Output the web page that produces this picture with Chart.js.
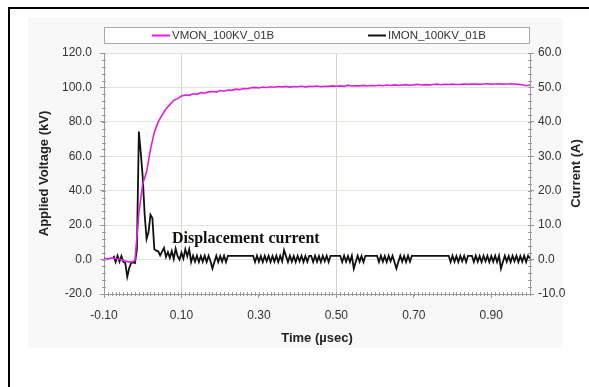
<!DOCTYPE html>
<html>
<head>
<meta charset="utf-8">
<script src="https://cdn.jsdelivr.net/npm/chart.js@4"></script>
<style>
  html, body { margin: 0; padding: 0; overflow: hidden; background: #fff; }
  #chart { position: absolute; left: 0; top: 0; }
</style>
</head>
<body>
<canvas id="chart" width="589" height="387"></canvas>
<script>
// sample grids (scope time base)
var voltageT0 = -0.10, voltageStep = 0.01;
var currentT0 = -0.075, currentStep = 0.005;

// applied voltage, kV (left axis)
var voltageKV = [
  0.8, 0.3, 1.0, 0.6, 0.2, -0.4, -1.2, -1.5, -0.5, 27,
  44, 51, 64, 74, 80, 84, 87.5, 90, 92.5, 93.5,
  95, 95.6, 95.4, 96.3, 96, 97, 96.6, 97.4, 97.6, 97.3,
  98.2, 97.8, 98.5, 98.3, 99, 98.7, 99.4, 99.2, 99.8, 100,
  99.7, 100.2, 100, 100.4, 100.1, 100.5, 100.3, 100.6, 100.2, 100.5,
  100.4, 100.7, 100.3, 100.6, 100.5, 100.8, 100.4, 100.7, 100.6, 100.9,
  100.7, 100.9, 100.6, 101.3, 100.8, 101.0, 100.9, 101.2, 100.8, 101.1,
  101.0, 101.3, 101.0, 101.4, 101.1, 101.5, 101.2, 101.4, 101.6, 101.3,
  101.5, 101.8, 101.4, 101.6, 101.5, 101.7, 101.9, 101.6, 101.8, 101.7,
  101.9, 101.7, 101.8, 102.0, 101.8, 101.9, 102.0, 101.8, 102.0, 102.1,
  101.9, 102.0, 102.1, 101.9, 102.0, 102.1, 102.0, 101.8, 101.6, 101.0,
  101.4
];

// current, A (right axis)
var currentA = [
  1.1, -0.7, 1.1, -0.6, 1.0, -0.7, -1.0, -5.0, -2.5, -1.0,
  -0.8, -1.0, 3.0, 37.2, 31.0, 24.0, 13.0, 6.0, 8.0, 13.0,
  12.0, 3.0, 2.6, 2.4, 1.2, 2.3, 3.4, 0.8, 2.2, 0.5,
  2.5, 0.2, 3.2, 1.0, 0.0, 2.0, 0.3, 3.0, 1.0, 3.0,
  -0.7, 1.1, -0.6, 1.1, -0.7, 1.0, -0.6, 1.1, -0.7, 1.1,
  -0.5, -2.6, -0.7, 1.1, -0.7, 1.0, -0.6, 1.1, -0.7, 1.1,
  1.1, 1.1, 1.1, 1.1, 1.1, 1.1, 1.1, 1.1, 1.1, 1.1,
  1.1, 1.1, 1.1, -0.7, 1.1, -0.6, 1.0, -0.7, 1.1, -0.5,
  1.1, -0.7, 1.0, -0.6, 1.1, -0.7, 1.1, -0.5, 2.7, 1.0,
  -0.7, 1.1, -0.6, 1.0, -0.7, 1.1, -0.5, 1.1, -0.7, 1.0,
  -0.6, 1.1, 1.1, -0.7, 1.1, -0.6, 1.0, -0.7, 1.1, -0.5,
  1.1, -0.7, 1.1, 1.1, 1.1, 1.1, 1.1, 1.1, -0.7, 1.1,
  -0.6, 1.0, -0.7, 1.1, -2.6, -0.7, 1.1, -0.6, 1.0, -0.7,
  1.1, 1.1, 1.1, 1.1, 1.1, 1.1, 1.1, -0.7, 1.1, -0.6,
  1.0, -0.7, 1.1, -0.5, 1.1, -0.7, -2.6, -0.7, 1.1, -0.6,
  1.0, -0.7, 1.1, -0.6, 1.1, 1.1, 1.1, 1.1, 1.1, 1.1,
  1.1, 1.1, 1.1, 1.1, 1.1, 1.1, 1.1, 1.1, 1.1, 1.1,
  1.1, 1.1, 1.1, 1.1, -0.7, 1.1, -0.6, 1.0, -0.7, 1.1,
  -0.5, 1.1, -0.7, 1.1, 1.1, 1.1, -0.7, 1.1, -0.6, 1.0,
  -0.7, 1.1, -0.5, 1.1, -0.7, 1.0, -0.6, 1.1, -0.7, 1.1,
  -2.6, -0.7, 1.1, -0.6, 1.0, -0.7, 1.1, -0.5, 1.1, -0.7,
  1.0, -0.6, 1.1, -0.7, 1.1, 0.3
];

var seriesNames = ['VMON_100KV_01B', 'IMON_100KV_01B'];
var seriesColors = ['#e01ee0', '#111111'];
var timeTicks = [-0.10, 0.10, 0.30, 0.50, 0.70, 0.90];
var timeGridAt = [0.10, 0.50];
var noteText = 'Displacement current';
var noteAt = { t: 0.0755, kv: 9.9 };

var sans = '"Liberation Sans", Arial, sans-serif';

var voltagePts = voltageKV.map(function (v, i) {
  return { x: voltageT0 + i * voltageStep, y: v };
});
var currentPts = currentA.map(function (v, i) {
  return { x: currentT0 + i * currentStep, y: v };
});

var decor = {
  id: 'decor',
  beforeDraw: function (chart) {
    var c = chart.ctx, a = chart.chartArea;
    c.save();
    // page frame (runs off the right and bottom edges)
    c.fillStyle = '#000';
    c.fillRect(8, 7, 581, 2);
    c.fillRect(8, 7, 2, 380);
    c.fillStyle = '#f8f8f8';
    c.fillRect(28, 18, 535, 330);
    c.fillStyle = '#fff';
    c.fillRect(a.left, a.top, a.right - a.left, a.bottom - a.top);
    c.restore();
  },
  afterDraw: function (chart) {
    var c = chart.ctx, a = chart.chartArea;
    var sx = chart.scales.x, sv = chart.scales.yV, si = chart.scales.yI;
    c.save();

    // minor ticks
    c.strokeStyle = '#999';
    c.lineWidth = 1;
    c.beginPath();
    for (var k = 0; k <= 35; k++) {
      var y = Math.round(sv.getPixelForValue(-20 + 4 * k)) + 0.5;
      c.moveTo(a.left - 2, y); c.lineTo(a.left + 2, y);
    }
    for (k = 0; k <= 35; k++) {
      y = Math.round(si.getPixelForValue(-10 + 2 * k)) + 0.5;
      c.moveTo(a.right - 2, y); c.lineTo(a.right + 2, y);
    }
    for (k = 0; k <= 110; k++) {
      var x = Math.round(sx.getPixelForValue(-0.1 + 0.01 * k)) + 0.5;
      c.moveTo(x, a.bottom - 2); c.lineTo(x, a.bottom + 2);
    }
    c.stroke();

    // legend box
    var lx = a.left, ly = 27, lw = a.right - a.left, lh = 17;
    c.fillStyle = '#fff';
    c.fillRect(lx, ly, lw, lh);
    c.strokeStyle = '#a8a8a8';
    c.strokeRect(lx + 0.5, ly + 0.5, lw - 1, lh - 1);
    var itemX = [lx + 48, lx + 264];
    c.font = '11.5px ' + sans;
    c.textBaseline = 'middle';
    c.textAlign = 'left';
    for (var s = 0; s < 2; s++) {
      c.strokeStyle = seriesColors[s];
      c.lineWidth = 2;
      c.beginPath();
      c.moveTo(itemX[s], ly + 8.5); c.lineTo(itemX[s] + 18, ly + 8.5);
      c.stroke();
      c.fillStyle = '#333';
      c.fillText(seriesNames[s], itemX[s] + 20, ly + 9);
    }

    // right axis title, reading upward like the left one
    c.save();
    c.translate(576, (a.top + a.bottom) / 2);
    c.rotate(-Math.PI / 2);
    c.textAlign = 'center';
    c.fillStyle = '#222';
    c.font = 'bold 13px ' + sans;
    c.fillText('Current (A)', 0, 0);
    c.restore();

    // note
    c.fillStyle = '#111';
    c.font = 'bold 16px "Liberation Serif", "Times New Roman", serif';
    c.textAlign = 'left';
    c.textBaseline = 'alphabetic';
    c.fillText(noteText, sx.getPixelForValue(noteAt.t), sv.getPixelForValue(noteAt.kv));
    c.restore();
  }
};

new Chart(document.getElementById('chart'), {
  type: 'line',
  data: {
    datasets: [{
      label: seriesNames[0],
      data: voltagePts,
      yAxisID: 'yV',
      borderColor: seriesColors[0],
      borderWidth: 1.6,
      pointRadius: 0,
      tension: 0
    }, {
      label: seriesNames[1],
      data: currentPts,
      yAxisID: 'yI',
      borderColor: seriesColors[1],
      borderWidth: 1.8,
      pointRadius: 0,
      tension: 0
    }]
  },
  options: {
    responsive: false,
    animation: false,
    layout: { padding: { top: 53, left: 0, right: 0, bottom: 0 } },
    plugins: { legend: { display: false }, tooltip: { enabled: false } },
    scales: {
      x: {
        type: 'linear',
        min: -0.1,
        max: 1.0,
        afterBuildTicks: function (s) {
          s.ticks = timeTicks.map(function (v) { return { value: v }; });
        },
        afterFit: function (s) { s.height = 93; },
        ticks: {
          autoSkip: false,
          maxRotation: 0,
          padding: 10,
          color: '#333',
          font: { family: sans, size: 12 },
          callback: function (v) { return Number(v).toFixed(2); }
        },
        grid: {
          color: function (ctx) {
            var v = ctx.tick ? ctx.tick.value : null;
            for (var i = 0; i < timeGridAt.length; i++) {
              if (v !== null && Math.abs(v - timeGridAt[i]) < 1e-6) return '#d2d6cc';
            }
            return 'rgba(0,0,0,0)';
          },
          tickColor: '#999',
          tickLength: 4
        },
        border: { color: '#999' },
        title: {
          display: true,
          text: 'Time (µsec)',
          color: '#222',
          font: { family: sans, size: 13, weight: 'bold' },
          padding: { top: 0, bottom: 41 }
        }
      },
      yV: {
        type: 'linear',
        position: 'left',
        min: -20,
        max: 120,
        afterFit: function (s) { s.width = 104; },
        ticks: {
          stepSize: 20,
          padding: 8,
          color: '#333',
          font: { family: sans, size: 12 },
          callback: function (v) { return Number(v).toFixed(1); }
        },
        grid: {
          color: function (ctx) {
            return ctx.tick && ctx.tick.value === -20 ? 'rgba(0,0,0,0)' : '#e2e6da';
          },
          tickColor: '#999',
          tickLength: 4
        },
        border: { color: '#999' },
        title: {
          display: true,
          text: 'Applied Voltage (kV)',
          color: '#222',
          font: { family: sans, size: 13, weight: 'bold' },
          padding: { top: 37, bottom: 0 }
        }
      },
      yI: {
        type: 'linear',
        position: 'right',
        min: -10,
        max: 60,
        afterFit: function (s) { s.width = 59; },
        ticks: {
          stepSize: 10,
          padding: 4,
          color: '#333',
          font: { family: sans, size: 12 },
          callback: function (v) { return Number(v).toFixed(1); }
        },
        grid: { drawOnChartArea: false, tickColor: '#999', tickLength: 4 },
        border: { color: '#999' }
      }
    }
  },
  plugins: [decor]
});
</script>
</body>
</html>
